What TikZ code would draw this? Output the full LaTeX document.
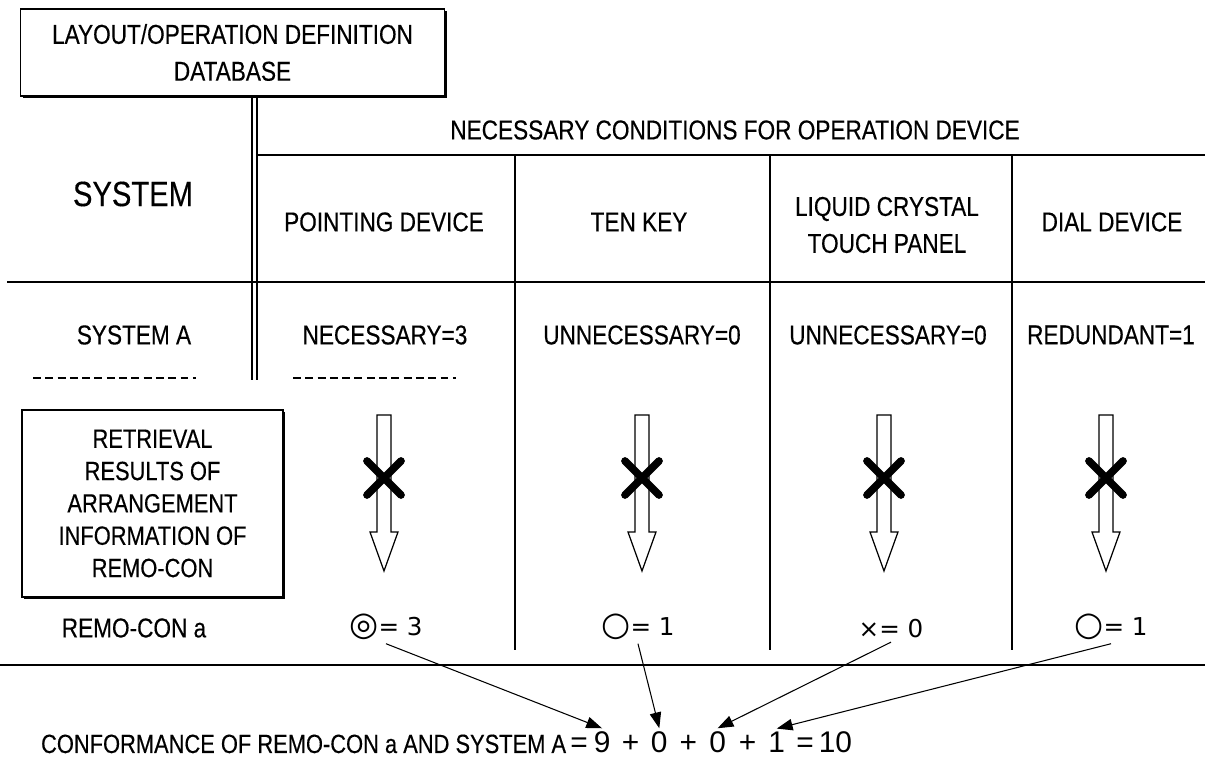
\documentclass[tikz,border=0pt]{standalone}
\usepackage{fontspec}
\setmainfont{Liberation Sans}[FakeStretch=0.83, FakeBold=0.35]
\newfontfamily\symfont{DejaVu Sans}
\newfontfamily\numfont{Liberation Sans}
\usepackage{tikz}
\usetikzlibrary{arrows.meta,positioning,shadows}

\tikzset{
  lbl/.style={font=\fontsize{15.5}{21}\selectfont, align=center, inner sep=1pt},
  bigl/.style={font=\fontsize{20}{24}\selectfont, inner sep=1pt},
  dbbox/.style={draw, fill=white, line width=0.6pt,
    drop shadow={shadow xshift=1.4pt, shadow yshift=-1.4pt, opacity=1, fill=black}},
  grid/.style={line width=0.9pt},
  dashrule/.style={line width=0.7pt, dash pattern=on 4.5pt off 2.5pt},
  hollow/.style={draw, fill=white, line width=0.7pt},
  cross/.style={line width=4.4pt, line cap=round},
  res/.style={font=\symfont\fontsize{14}{16}\selectfont, inner sep=2pt},
  fml/.style={font=\numfont\fontsize{17}{20}\selectfont, inner xsep=1pt, inner ysep=2pt},
  conn/.style={line width=0.6pt, -{Triangle[length=9pt,width=6.5pt]}}
}
\newcommand{\bigsym}[1]{{\fontsize{19}{20}\selectfont #1}}

\begin{document}
\begin{tikzpicture}[x=0.02cm, y=-0.02cm]
\useasboundingbox (0,0) rectangle (1205,766);

% database box on top
\node[dbbox, lbl, minimum width=8.5cm, minimum height=1.74cm] (db) at (232.5,52.5)
  {LAYOUT/OPERATION DEFINITION\\DATABASE};

% table rules
\draw[grid] (257,155) -- (1205,155);
\draw[grid] (7,282) -- (1205,282);
\draw[grid] (0,665) -- (1205,665);
\foreach \x in {515,770,1012}
  \draw[grid] (\x,155) -- (\x,650);
\draw[grid] (252,96) -- (252,380) (257,96) -- (257,380);

% heading
\node[lbl] (cond) at (735,130) {NECESSARY CONDITIONS FOR OPERATION DEVICE};
\node[bigl] (sys) at (133,194) {SYSTEM};
\node[lbl] (hpd) at (384,222) {POINTING DEVICE};
\node[lbl] (htk) at (639,222) {TEN KEY};
\node[lbl] (hlc) at (887,225) {LIQUID CRYSTAL\\TOUCH PANEL};
\node[lbl] (hdd) at (1112,222) {DIAL DEVICE};

% system A row
\node[lbl] (sysa) at (134,335) {SYSTEM A};
\node[lbl] (cpd) at (385,335) {NECESSARY=3};
\node[lbl] (ctk) at (642,335) {UNNECESSARY=0};
\node[lbl] (clc) at (888,335) {UNNECESSARY=0};
\node[lbl] (cdd) at (1111,335) {REDUNDANT=1};
\draw[dashrule] (33,378) -- (196,378);
\draw[dashrule] (293,378) -- (456,378);

% retrieval box
\node[dbbox, font=\fontsize{15}{18.4}\selectfont, align=center, minimum width=5.22cm,
  minimum height=3.74cm] (ret) at (152.5,503.5)
  {RETRIEVAL\\RESULTS OF\\ARRANGEMENT\\INFORMATION OF\\REMO-CON};

% hollow arrows, crossed out
\foreach \x in {384,642,884,1106}{
  \draw[hollow] (\x-7,415) -- (\x+7,415) -- (\x+7,532) -- (\x+14,532) -- (\x,571)
    -- (\x-14,532) -- (\x-7,532) -- cycle;
  \draw[cross] (\x-17,461) -- (\x+17,495) (\x-17,495) -- (\x+17,461);
}

% remo-con a row
\node[lbl] (rca) at (134,628) {REMO-CON a};
\node[res] (rpd) at (386,627) {\bigsym{◎}= 3};
\node[res] (rtk) at (638,627) {\bigsym{○}= 1};
\node[res] (rlc) at (891,629) {×= 0};
\node[res] (rdd) at (1111,627) {\bigsym{○}= 1};

% conformance
\node[lbl, font=\fontsize{15}{18}\selectfont, anchor=base west] (conf) at (39,753)
  {CONFORMANCE OF REMO-CON a AND SYSTEM A};
\node[fml, base right=0pt of conf] (eqa) {=};
\node[fml, base right=1pt of eqa] (n9) {9};
\node[fml, base right=4.2pt of n9] (p1) {+};
\node[fml, base right=4.2pt of p1] (n0a) {0};
\node[fml, base right=4.5pt of n0a] (p2) {+};
\node[fml, base right=4.5pt of p2] (n0b) {0};
\node[fml, base right=5pt of n0b] (p3) {+};
\node[fml, base right=4.5pt of p3] (n1) {1};
\node[fml, base right=4pt of n1] (eqb) {=};
\node[fml, base right=0.5pt of eqb] (n10) {10};

\draw[conn] (rpd.south) -- (n9.north);
\draw[conn] (rtk.south) -- (n0a.north);
\draw[conn] (rlc.south) -- (n0b.north);
\draw[conn] (rdd.south) -- (n1.north);
\end{tikzpicture}
\end{document}
